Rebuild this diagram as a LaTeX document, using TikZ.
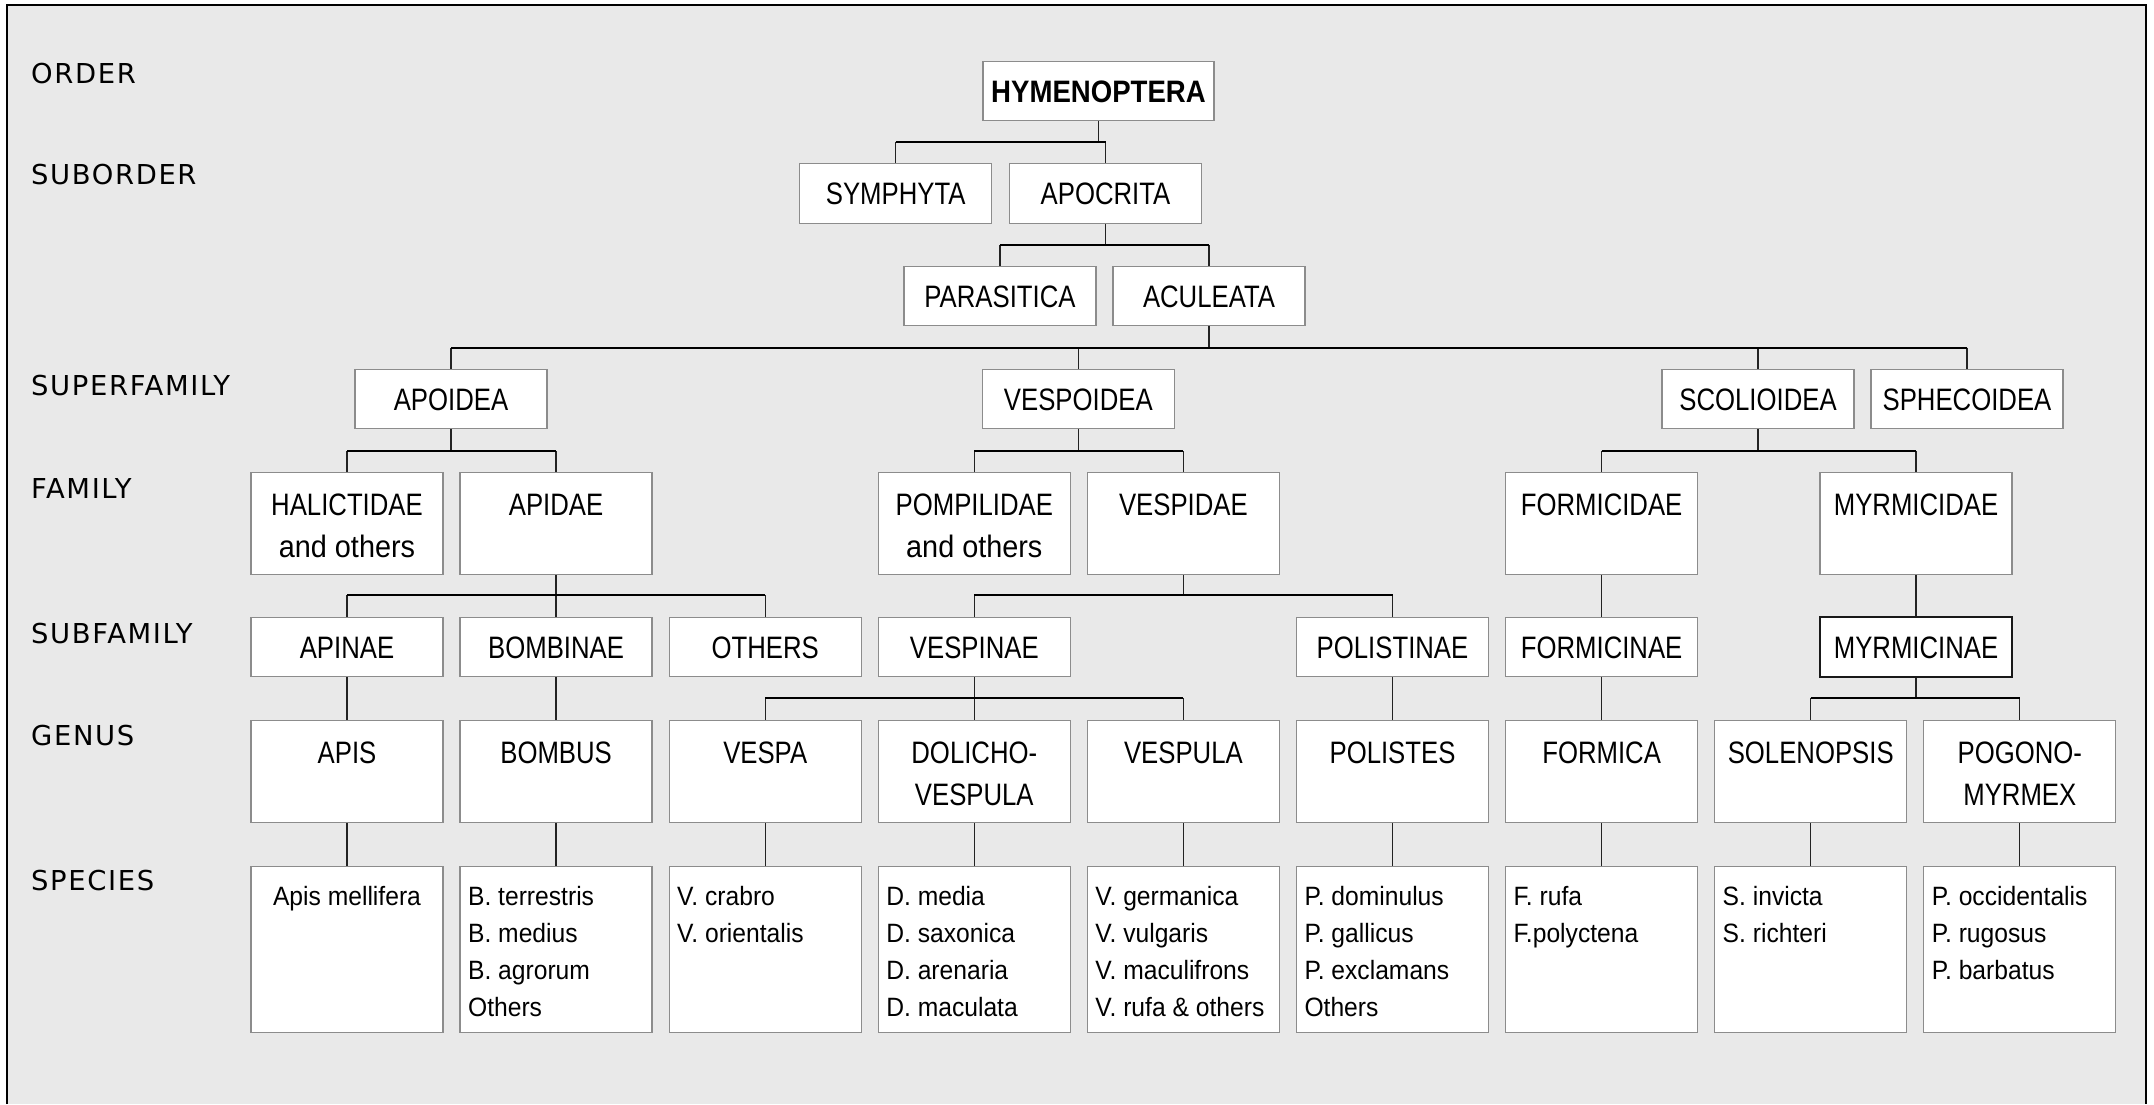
\documentclass[tikz,border=0pt]{standalone}
\usepackage{fontspec}
\newfontfamily\hdf{Liberation Sans}[FakeStretch=0.83]
\newfontfamily\lcf{Liberation Sans}[FakeStretch=0.93]
\newfontfamily\hbf{Liberation Sans}[FakeStretch=0.89]
\newfontfamily\rlf{DejaVu Sans}[LetterSpace=6]
\definecolor{bg}{RGB}{233,233,233}
\definecolor{bxline}{RGB}{140,140,140}
\definecolor{ln}{RGB}{35,35,35}
\tikzset{
  bx/.style={draw=bxline, fill=white, line width=1.3pt, inner sep=0pt, minimum width=192pt},
  sbox/.style={bx, minimum height=59.5pt, text height=22.3pt, text depth=0pt, font=\hdf\fontsize{31}{42}\selectfont},
  tbox/.style={bx, anchor=north, text height=43pt, text depth=59pt, font=\hdf\fontsize{31}{42}\selectfont},
  spbox/.style={bx, anchor=north, text height=39pt, text depth=127pt, font=\lcf\fontsize{26.5}{37}\selectfont},
  rl/.style={anchor=base west, inner sep=0pt, font=\rlf\fontsize{27.4}{30}\selectfont},
  vln/.style={draw=ln, line width=1.3pt},
  hbar/.style={draw=black, line width=2pt},
}
\newcommand{\tl}[1]{\parbox[t]{192pt}{\centering #1}}
\newcommand{\spl}[1]{\parbox[t]{192pt}{\raggedright\leftskip=8pt #1}}
\begin{document}
\begin{tikzpicture}[x=1pt,y=-1pt]
\useasboundingbox (0,0) rectangle (2154,1104);
\fill[white] (0,0) rectangle (2154,1104);
\fill[bg] (7,5) rectangle (2146,1104);
\draw[black, line width=2.2pt] (7,1104) -- (7,5) -- (2146,5) -- (2146,1104);

% row labels
\node[rl] (lorder) at (31,83) {ORDER};
\node[rl] (lsubor) at (31,184.5) {SUBORDER};
\node[rl] (lsuper) at (31,395) {SUPERFAMILY};
\node[rl] (lfam) at (31,498) {FAMILY};
\node[rl] (lsubf) at (31,643) {SUBFAMILY};
\node[rl] (lgen) at (31,745) {GENUS};
\node[rl] (lspe) at (31,890.5) {SPECIES};

% order / suborder
\node[sbox, minimum width=231pt, font=\hbf\bfseries\fontsize{31}{42}\selectfont] (hym) at (1098.5,91) {HYMENOPTERA};
\node[sbox] (sym) at (895.7,193.5) {SYMPHYTA};
\node[sbox] (apo) at (1105.5,193.5) {APOCRITA};
\node[sbox] (par) at (1000,296) {PARASITICA};
\node[sbox] (acu) at (1209,296) {ACULEATA};
% superfamily
\node[sbox] (apoi) at (451,399) {APOIDEA};
\node[sbox] (vesp) at (1078.3,399) {VESPOIDEA};
\node[sbox] (scol) at (1758,399) {SCOLIOIDEA};
\node[sbox] (sphe) at (1967,399) {SPHECOIDEA};
% family
\node[tbox] (hal) at (347,472) {\tl{HALICTIDAE\\{\lcf and others}}};
\node[tbox] (apid) at (556.1,472) {\tl{APIDAE}};
\node[tbox] (pomp) at (974.3,472) {\tl{POMPILIDAE\\{\lcf and others}}};
\node[tbox] (vespid) at (1183.4,472) {\tl{VESPIDAE}};
\node[tbox] (formid) at (1601.6,472) {\tl{FORMICIDAE}};
\node[tbox] (myrmid) at (1916,472) {\tl{MYRMICIDAE}};
% subfamily
\node[sbox] (apin) at (347,647) {APINAE};
\node[sbox] (bomb) at (556.1,647) {BOMBINAE};
\node[sbox] (oth) at (765.2,647) {OTHERS};
\node[sbox] (vespin) at (974.3,647) {VESPINAE};
\node[sbox] (polin) at (1392.5,647) {POLISTINAE};
\node[sbox] (formin) at (1601.6,647) {FORMICINAE};
\node[sbox, draw=black!90, line width=1.7pt] (myrmin) at (1916,647) {MYRMICINAE};
% genus
\node[tbox] (gapis) at (347,720) {\tl{APIS}};
\node[tbox] (gbomb) at (556.1,720) {\tl{BOMBUS}};
\node[tbox] (gvespa) at (765.2,720) {\tl{VESPA}};
\node[tbox] (gdoli) at (974.3,720) {\tl{DOLICHO-\\VESPULA}};
\node[tbox] (gvespula) at (1183.4,720) {\tl{VESPULA}};
\node[tbox] (gpol) at (1392.5,720) {\tl{POLISTES}};
\node[tbox] (gform) at (1601.6,720) {\tl{FORMICA}};
\node[tbox] (gsol) at (1810.7,720) {\tl{SOLENOPSIS}};
\node[tbox] (gpogo) at (2019.8,720) {\tl{POGONO-\\MYRMEX}};
% species
\node[spbox] (s0) at (347,866) {\parbox[t]{192pt}{\centering Apis mellifera}};
\node[spbox] (s1) at (556.1,866) {\spl{B. terrestris\\B. medius\\B. agrorum\\Others}};
\node[spbox] (s2) at (765.2,866) {\spl{V. crabro\\V. orientalis}};
\node[spbox] (s3) at (974.3,866) {\spl{D. media\\D. saxonica\\D. arenaria\\D. maculata}};
\node[spbox] (s4) at (1183.4,866) {\spl{V. germanica\\V. vulgaris\\V. maculifrons\\V. rufa \& others}};
\node[spbox] (s5) at (1392.5,866) {\spl{P. dominulus\\P. gallicus\\P. exclamans\\Others}};
\node[spbox] (s6) at (1601.6,866) {\spl{F. rufa\\F.polyctena}};
\node[spbox] (s7) at (1810.7,866) {\spl{S. invicta\\S. richteri}};
\node[spbox] (s8) at (2019.8,866) {\spl{P. occidentalis\\P. rugosus\\P. barbatus}};

% bar levels
\coordinate (b1) at (0,142);
\coordinate (b2) at (0,245);
\coordinate (b3) at (0,347.5);
\coordinate (b4) at (0,451);
\coordinate (b5) at (0,595);
\coordinate (b6) at (0,698);

% hymenoptera
\draw[vln] (hym.south) -- (hym.south |- b1);
\draw[vln] (sym.north |- b1) -- (sym.north);
\draw[vln] (apo.north |- b1) -- (apo.north);
\draw[hbar] (sym.north |- b1) -- (apo.north |- b1);
% apocrita
\draw[vln] (apo.south) -- (apo.south |- b2);
\draw[vln] (par.north |- b2) -- (par.north);
\draw[vln] (acu.north |- b2) -- (acu.north);
\draw[hbar] (par.north |- b2) -- (acu.north |- b2);
% aculeata
\draw[vln] (acu.south) -- (acu.south |- b3);
\draw[vln] (apoi.north |- b3) -- (apoi.north);
\draw[vln] (vesp.north |- b3) -- (vesp.north);
\draw[vln] (scol.north |- b3) -- (scol.north);
\draw[vln] (sphe.north |- b3) -- (sphe.north);
\draw[hbar] (apoi.north |- b3) -- (sphe.north |- b3);
% apoidea
\draw[vln] (apoi.south) -- (apoi.south |- b4);
\draw[vln] (hal.north |- b4) -- (hal.north);
\draw[vln] (apid.north |- b4) -- (apid.north);
\draw[hbar] (hal.north |- b4) -- (apid.north |- b4);
% vespoidea
\draw[vln] (vesp.south) -- (vesp.south |- b4);
\draw[vln] (pomp.north |- b4) -- (pomp.north);
\draw[vln] (vespid.north |- b4) -- (vespid.north);
\draw[hbar] (pomp.north |- b4) -- (vespid.north |- b4);
% scolioidea
\draw[vln] (scol.south) -- (scol.south |- b4);
\draw[vln] (formid.north |- b4) -- (formid.north);
\draw[vln] (myrmid.north |- b4) -- (myrmid.north);
\draw[hbar] (formid.north |- b4) -- (myrmid.north |- b4);
% apidae
\draw[vln] (apid.south) -- (apid.south |- b5);
\draw[vln] (apin.north |- b5) -- (apin.north);
\draw[vln] (bomb.north |- b5) -- (bomb.north);
\draw[vln] (oth.north |- b5) -- (oth.north);
\draw[hbar] (apin.north |- b5) -- (oth.north |- b5);
% vespidae
\draw[vln] (vespid.south) -- (vespid.south |- b5);
\draw[vln] (vespin.north |- b5) -- (vespin.north);
\draw[vln] (polin.north |- b5) -- (polin.north);
\draw[hbar] (vespin.north |- b5) -- (polin.north |- b5);
% straight family -> subfamily
\draw[vln] (formid.south) -- (formin.north);
\draw[vln] (myrmid.south) -- (myrmin.north);
% subfamily -> genus
\draw[vln] (apin.south) -- (gapis.north);
\draw[vln] (bomb.south) -- (gbomb.north);
\draw[vln] (polin.south) -- (gpol.north);
\draw[vln] (formin.south) -- (gform.north);
\draw[vln] (vespin.south) -- (vespin.south |- b6);
\draw[vln] (gvespa.north |- b6) -- (gvespa.north);
\draw[vln] (gdoli.north |- b6) -- (gdoli.north);
\draw[vln] (gvespula.north |- b6) -- (gvespula.north);
\draw[hbar] (gvespa.north |- b6) -- (gvespula.north |- b6);
\draw[vln] (myrmin.south) -- (myrmin.south |- b6);
\draw[vln] (gsol.north |- b6) -- (gsol.north);
\draw[vln] (gpogo.north |- b6) -- (gpogo.north);
\draw[hbar] (gsol.north |- b6) -- (gpogo.north |- b6);
% genus -> species
\draw[vln] (gapis.south) -- (s0.north);
\draw[vln] (gbomb.south) -- (s1.north);
\draw[vln] (gvespa.south) -- (s2.north);
\draw[vln] (gdoli.south) -- (s3.north);
\draw[vln] (gvespula.south) -- (s4.north);
\draw[vln] (gpol.south) -- (s5.north);
\draw[vln] (gform.south) -- (s6.north);
\draw[vln] (gsol.south) -- (s7.north);
\draw[vln] (gpogo.south) -- (s8.north);
\end{tikzpicture}
\end{document}
